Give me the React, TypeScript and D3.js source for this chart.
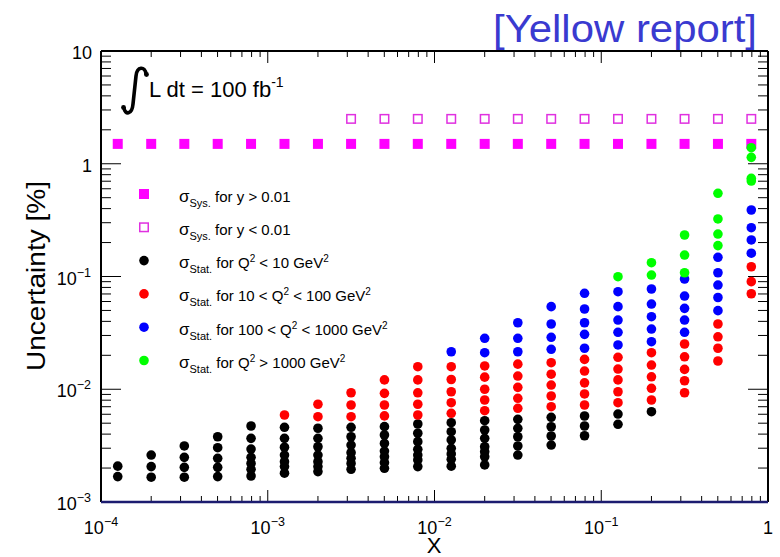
import React from "react";
import * as d3 from "d3";

// x bin centres
const xBins = [
  1.26e-4, 2.0e-4, 3.16e-4, 5.01e-4, 7.94e-4,
  1.26e-3, 2.0e-3, 3.16e-3, 5.01e-3, 7.94e-3,
  1.26e-2, 2.0e-2, 3.16e-2, 5.01e-2, 7.94e-2,
  0.126, 0.2, 0.316, 0.501, 0.794,
];

// systematic uncertainty [%]
const sysHigh = [1.5, 1.5, 1.5, 1.5, 1.5, 1.5, 1.5, 1.5, 1.5, 1.5, 1.5, 1.5, 1.5, 1.5, 1.5, 1.5, 1.5, 1.5, 1.5, 1.5];
const sysLowFirstBin = 7;
const sysLow = [2.5, 2.5, 2.5, 2.5, 2.5, 2.5, 2.5, 2.5, 2.5, 2.5, 2.5, 2.5, 2.5];

// statistical uncertainty [%] per x bin, by Q2 range
const statQ2lt10: number[][] = [
  [2.08e-3, 1.68e-3],
  [2.61e-3, 2.06e-3, 1.66e-3],
  [3.14e-3, 2.49e-3, 2.03e-3, 1.66e-3],
  [3.79e-3, 3.03e-3, 2.44e-3, 2.03e-3, 1.68e-3],
  [4.72e-3, 3.67e-3, 2.95e-3, 2.49e-3, 2.2e-3, 1.95e-3, 1.7e-3],
  [4.6e-3, 3.67e-3, 3.06e-3, 2.61e-3, 2.28e-3, 2.06e-3, 1.8e-3],
  [4.51e-3, 3.67e-3, 3.09e-3, 2.61e-3, 2.28e-3, 2.06e-3, 1.86e-3],
  [4.6e-3, 3.79e-3, 3.2e-3, 2.74e-3, 2.44e-3, 2.2e-3, 1.95e-3],
  [4.66e-3, 3.93e-3, 3.31e-3, 2.83e-3, 2.52e-3, 2.23e-3, 1.99e-3],
  [4.92e-3, 4.07e-3, 3.43e-3, 2.93e-3, 2.61e-3, 2.36e-3, 2.06e-3],
  [5.05e-3, 4.2e-3, 3.55e-3, 2.99e-3, 2.67e-3, 2.39e-3, 2.08e-3],
  [5.26e-3, 4.35e-3, 3.67e-3, 3.09e-3, 2.79e-3, 2.52e-3, 2.13e-3],
  [5.41e-3, 4.5e-3, 3.79e-3, 3.14e-3, 2.61e-3],
  [5.64e-3, 4.65e-3, 3.85e-3, 3.2e-3],
  [5.79e-3, 4.72e-3, 3.87e-3],
  [6.03e-3, 4.89e-3],
  [6.32e-3],
  [], [], [],
];
const statQ2_10_100: number[][] = [
  [], [], [], [], [],
  [5.91e-3],
  [7.36e-3, 5.71e-3],
  [9.31e-3, 7.25e-3, 5.71e-3],
  [1.21e-2, 9.2e-3, 7.25e-3, 5.8e-3],
  [1.585e-2, 1.21e-2, 9.3e-3, 7.36e-3, 5.91e-3],
  [1.585e-2, 1.22e-2, 9.5e-3, 7.6e-3, 6.12e-3],
  [1.61e-2, 1.28e-2, 1.0e-2, 8.03e-3, 6.45e-3],
  [1.67e-2, 1.31e-2, 1.04e-2, 8.31e-3, 6.78e-3],
  [1.72e-2, 1.36e-2, 1.09e-2, 8.71e-3, 7.0e-3],
  [1.84e-2, 1.45e-2, 1.14e-2, 9.08e-3, 7.25e-3],
  [1.92e-2, 1.51e-2, 1.21e-2, 9.5e-3, 7.6e-3],
  [2.11e-2, 1.64e-2, 1.29e-2, 1.02e-2, 8.03e-3],
  [2.52e-2, 1.94e-2, 1.5e-2, 1.19e-2, 9.31e-3],
  [3.79e-2, 2.92e-2, 2.31e-2, 1.78e-2],
  [0.122, 0.09, 0.0703],
];
const statQ2_100_1000: number[][] = [
  [], [], [], [], [], [], [], [], [], [],
  [2.15e-2],
  [2.83e-2, 2.11e-2],
  [3.89e-2, 2.83e-2, 2.15e-2],
  [5.4e-2, 3.79e-2, 2.89e-2, 2.26e-2],
  [7.1e-2, 5.15e-2, 3.89e-2, 3.07e-2, 2.31e-2],
  [7.33e-2, 5.4e-2, 4.11e-2, 3.2e-2, 2.47e-2],
  [7.75e-2, 5.7e-2, 4.4e-2, 3.42e-2, 2.64e-2],
  [9.5e-2, 6.71e-2, 5.22e-2, 4.11e-2, 3.2e-2],
  [0.148, 0.108, 8.4e-2, 6.51e-2, 4.98e-2],
  [0.389, 0.271, 0.211, 0.161],
];
const statQ2gt1000: number[][] = [
  [], [], [], [], [], [], [], [], [], [], [], [], [], [], [],
  [0.0996],
  [0.1326, 0.103],
  [0.2334, 0.155, 0.108],
  [0.547, 0.324, 0.238, 0.188],
  [1.387, 1.14, 0.743, 0.703],
];

const xTickExps = [-4, -3, -2, -1, 0];
const yTickExps = [-3, -2, -1, 0, 1];

const FONT = "'Liberation Sans', Arial, Helvetica, sans-serif";
const MAGENTA = "#ff00ff";

const L = 101, R = 768, T = 51, B = 502;

export default function App() {
  const x = d3.scaleLog().domain([1e-4, 1]).range([L, R]);
  const y = d3.scaleLog().domain([1e-3, 10]).range([B, T]);

  const isMajor = (v: number) => Math.abs(Math.log10(v) - Math.round(Math.log10(v))) < 1e-9;
  const xt = x.ticks();
  const yt = y.ticks();

  const statSets: { data: number[][]; color: string }[] = [
    { data: statQ2lt10, color: "#000000" },
    { data: statQ2_10_100, color: "#ff0000" },
    { data: statQ2_100_1000, color: "#0000ff" },
    { data: statQ2gt1000, color: "#00ff00" },
  ];

  const sq = 10;
  const r = 4.8;

  const powLabel = (e: number) =>
    e === 0 ? (
      <tspan>1</tspan>
    ) : e === 1 ? (
      <tspan>10</tspan>
    ) : (
      <>
        <tspan>10</tspan>
        <tspan dy={-8} fontSize={12.5}>{"\u2212" + Math.abs(e)}</tspan>
      </>
    );

  const legendRows = [
    { kind: "fill", sub: "Sys.", text: [" for y > 0.01"] },
    { kind: "open", sub: "Sys.", text: [" for y < 0.01"] },
    { kind: "#000000", sub: "Stat.", text: [" for Q", "2", " < 10 GeV", "2"] },
    { kind: "#ff0000", sub: "Stat.", text: [" for 10 < Q", "2", " < 100 GeV", "2"] },
    { kind: "#0000ff", sub: "Stat.", text: [" for 100 < Q", "2", " < 1000 GeV", "2"] },
    { kind: "#00ff00", sub: "Stat.", text: [" for Q", "2", " > 1000 GeV", "2"] },
  ];

  return (
    <svg width={780} height={557} style={{ position: "absolute", left: 0, top: 0, background: "#fff" }} fontFamily={FONT}>
      <rect x={0} y={0} width={780} height={557} fill="#fff" />

      {/* ticks */}
      {xt.map((v, i) => {
        const len = isMajor(v) ? 12 : 6;
        const px = x(v);
        return (
          <g key={"xt" + i} stroke="#000" strokeWidth={1}>
            <line x1={px} x2={px} y1={B} y2={B - len} />
            <line x1={px} x2={px} y1={T} y2={T + len} />
          </g>
        );
      })}
      {yt.map((v, i) => {
        const len = isMajor(v) ? 20 : 10;
        const py = y(v);
        return (
          <g key={"yt" + i} stroke="#000" strokeWidth={1}>
            <line x1={L} x2={L + len} y1={py} y2={py} />
            <line x1={R} x2={R - len} y1={py} y2={py} />
          </g>
        );
      })}

      {/* frame */}
      <line x1={L} x2={R} y1={T} y2={T} stroke="#000" strokeWidth={2} />
      <line x1={L} x2={L} y1={T} y2={B} stroke="#000" strokeWidth={2} />
      <line x1={R} x2={R} y1={T} y2={B} stroke="#000" strokeWidth={2} />
      <line x1={L} x2={R} y1={B} y2={B} stroke="#1c1c70" strokeWidth={2.5} />

      {/* tick labels */}
      {xTickExps.map((e) => (
        <text key={"xl" + e} x={x(Math.pow(10, e))} y={534} fontSize={18} textAnchor="middle">
          {powLabel(e)}
        </text>
      ))}
      {yTickExps.map((e) => (
        <text key={"yl" + e} x={e === 0 || e === 1 ? 92 : 91} y={y(Math.pow(10, e)) + 8} fontSize={18} textAnchor="end">
          {powLabel(e)}
        </text>
      ))}

      {/* axis titles */}
      <text x={434} y={553} fontSize={22} textAnchor="middle">X</text>
      <text transform="translate(45,276) rotate(-90)" fontSize={25} textAnchor="middle" textLength={190} lengthAdjust="spacingAndGlyphs">
        Uncertainty [%]
      </text>
      <text x={757} y={42} fontSize={38} textAnchor="end" fill="#3a3ad0" textLength={264} lengthAdjust="spacingAndGlyphs">
        [Yellow report]
      </text>

      {/* integrated luminosity */}
      <path
        d="M 146 74 C 145 66, 137 66, 136 76 L 133 104 C 132 115, 125 115, 124 108"
        fill="none"
        stroke="#000"
        strokeWidth={3.6}
        strokeLinecap="round"
      />
      <circle cx={146.5} cy={74.5} r={2.4} fill="#000" />
      <circle cx={123.5} cy={107.5} r={2.4} fill="#000" />
      <text x={149} y={97} fontSize={22}>
        L dt = 100 fb
        <tspan dy={-10} fontSize={14}>-1</tspan>
      </text>

      {/* sys markers */}
      {sysHigh.map((v, i) => (
        <rect key={"sh" + i} x={x(xBins[i]) - sq / 2} y={y(v) - sq / 2} width={sq} height={sq} fill={MAGENTA} />
      ))}
      {sysLow.map((v, i) => (
        <rect
          key={"sl" + i}
          x={x(xBins[i + sysLowFirstBin]) - sq / 2 + 0.75}
          y={y(v) - sq / 2 + 0.75}
          width={sq - 1.5}
          height={sq - 1.5}
          fill="none"
          stroke="#e030e0"
          strokeWidth={1.5}
        />
      ))}

      {/* stat markers */}
      {statSets.map((s, si) =>
        s.data.map((col, ci) =>
          col.map((v, k) => (
            <circle key={`s${si}-${ci}-${k}`} cx={x(xBins[ci])} cy={y(v)} r={r} fill={s.color} />
          ))
        )
      )}

      {/* legend */}
      {legendRows.map((row, i) => {
        const cy = 194 + i * 33.3;
        const base = cy + 7.5;
        let marker;
        if (row.kind === "fill") marker = <rect x={144 - sq / 2} y={cy - sq / 2} width={sq} height={sq} fill={MAGENTA} />;
        else if (row.kind === "open")
          marker = (
            <rect x={144 - sq / 2 + 0.75} y={cy - sq / 2 + 0.75} width={sq - 1.5} height={sq - 1.5} fill="none" stroke="#e030e0" strokeWidth={1.5} />
          );
        else marker = <circle cx={144} cy={cy} r={r} fill={row.kind} />;
        const parts = row.text;
        return (
          <g key={"lg" + i}>
            {marker}
            <text x={179} y={base} fontSize={15}>
              <tspan fontSize={17}>σ</tspan>
              <tspan dy={5} fontSize={11}>{row.sub}</tspan>
              <tspan dy={-5}>{parts[0]}</tspan>
              {parts.length > 1 && (
                <>
                  <tspan dy={-6} fontSize={10}>{parts[1]}</tspan>
                  <tspan dy={6}>{parts[2]}</tspan>
                  <tspan dy={-6} fontSize={10}>{parts[3]}</tspan>
                </>
              )}
            </text>
          </g>
        );
      })}
    </svg>
  );
}
